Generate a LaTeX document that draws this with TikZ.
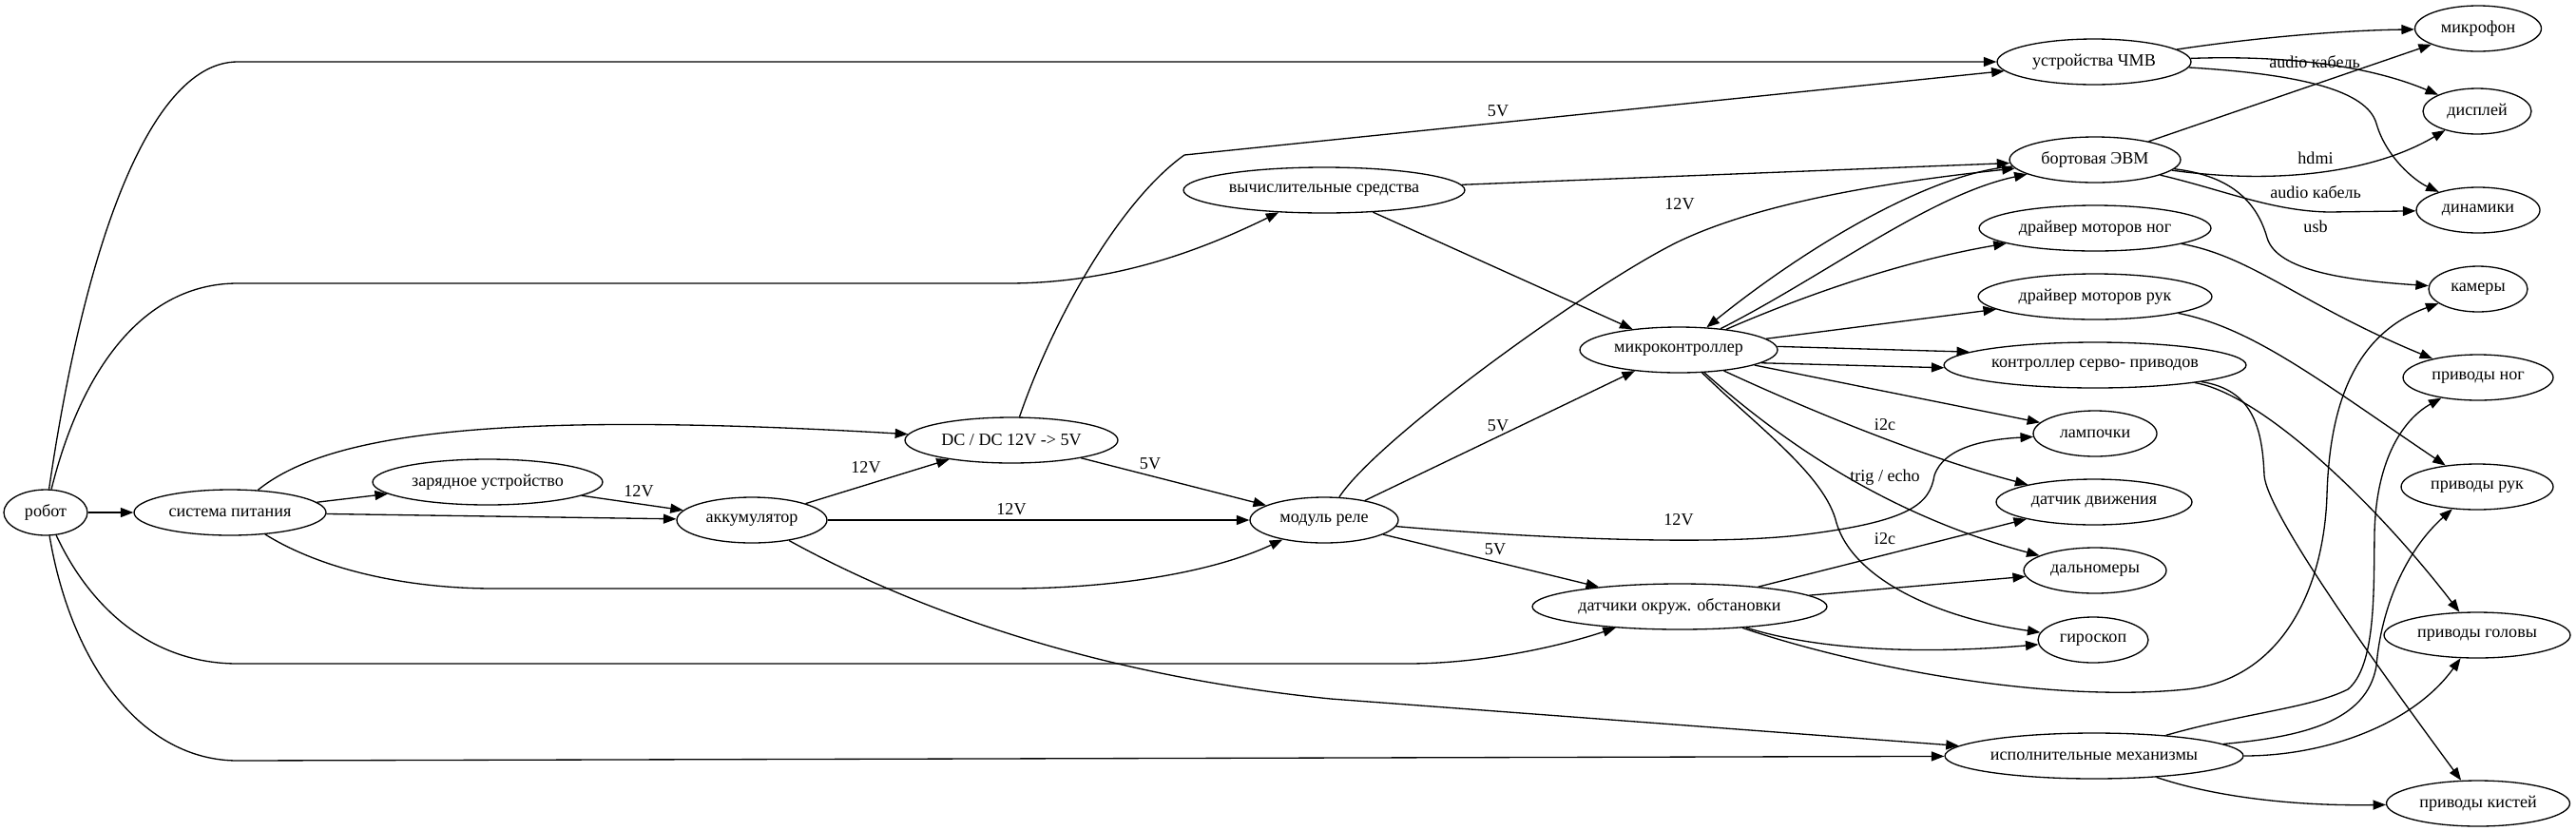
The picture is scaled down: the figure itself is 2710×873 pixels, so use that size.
\documentclass[tikz,border=0pt]{standalone}
\usepackage{fontspec}
\setmainfont{Liberation Serif}
\usetikzlibrary{arrows.meta,shapes.geometric}
\tikzset{
  blk/.style={ellipse,draw=black,line width=.75pt,inner sep=0pt,minimum height=.96cm,font=\fontsize{10.3}{12}\selectfont},
  link/.style={draw=black,line width=.75pt,-{Triangle[length=2.7mm,width=2mm]}},
  vlabel/.style={font=\fontsize{10.3}{12}\selectfont,inner sep=1pt}
}
\begin{document}
\begin{tikzpicture}[x=.02cm,y=-.02cm]
  \useasboundingbox (0,0) rectangle (2710,873);
  \node[blk,minimum width=1.76cm] (robot) at (48,539) {робот};
  \node[blk,minimum width=4.04cm] (power) at (242,539) {система питания};
  \node[blk,minimum width=4.84cm] (charger) at (513,507) {зарядное устройство};
  \node[blk,minimum width=3.16cm] (battery) at (791,547) {аккумулятор};
  \node[blk,minimum width=4.48cm] (dcdc) at (1064,463) {DC / DC 12V -> 5V};
  \node[blk,minimum width=3.12cm] (relay) at (1393,547) {модуль реле};
  \node[blk,minimum width=5.92cm] (compute) at (1393,200) {вычислительные средства};
  \node[blk,minimum width=4.16cm] (mcu) at (1766,368) {микроконтроллер};
  \node[blk,minimum width=6.2cm] (sensors) at (1767,638) {датчики окруж. обстановки};
  \node[blk,minimum width=4.08cm] (hmi) at (2203,65) {устройства ЧМВ};
  \node[blk,minimum width=3.6cm] (pc) at (2204,168) {бортовая ЭВМ};
  \node[blk,minimum width=4.88cm] (legdrv) at (2204,240) {драйвер моторов ног};
  \node[blk,minimum width=4.92cm] (armdrv) at (2204,312) {драйвер моторов рук};
  \node[blk,minimum width=6.36cm] (servo) at (2204,384) {контроллер серво- приводов};
  \node[blk,minimum width=2.6cm] (lamps) at (2204,456) {лампочки};
  \node[blk,minimum width=4.12cm] (motion) at (2203,528) {датчик движения};
  \node[blk,minimum width=3cm] (ranger) at (2204,600) {дальномеры};
  \node[blk,minimum width=2.32cm] (gyro) at (2202,673) {гироскоп};
  \node[blk,minimum width=6.28cm] (act) at (2203,795) {исполнительные механизмы};
  \node[blk,minimum width=2.66cm] (mic) at (2607,30) {микрофон};
  \node[blk,minimum width=2.28cm] (disp) at (2606,117) {дисплей};
  \node[blk,minimum width=2.6cm] (spk) at (2607,221) {динамики};
  \node[blk,minimum width=2.08cm] (cam) at (2607,304) {камеры};
  \node[blk,minimum width=3.16cm] (legs) at (2607,397) {приводы ног};
  \node[blk,minimum width=3.2cm] (arms) at (2606,512) {приводы рук};
  \node[blk,minimum width=3.92cm] (head) at (2606,668) {приводы головы};
  \node[blk,minimum width=3.86cm] (hands) at (2607,845) {приводы кистей};

  \draw[link] (robot) -- (power);
  \draw[link] (robot) .. controls (90,250) and (160,65) .. (250,65) -- (hmi);
  \draw[link] (robot) .. controls (85,390) and (150,298) .. (250,298) -- (1060,298) .. controls (1170,298) and (1260,265) .. (compute);
  \draw[link] (robot) .. controls (95,640) and (160,698) .. (250,698) -- (1480,698) .. controls (1560,698) and (1640,680) .. (sensors);
  \draw[link] (robot) .. controls (75,700) and (150,800) .. (250,800) -- (act);
  \draw[link] (power) -- (charger);
  \draw[link] (power) -- (battery);
  \draw[link] (power) .. controls (340,460) and (500,430) .. (dcdc);
  \draw[link] (power) .. controls (340,600) and (430,619) .. (520,619) -- (1060,619) .. controls (1180,619) and (1280,600) .. (relay);
  \draw[link] (charger) -- (battery);
  \draw[link] (battery) -- (dcdc);
  \draw[link] (battery) -- (relay);
  \draw[link] (battery) .. controls (960,640) and (1150,710) .. (1400,735) -- (act);
  \draw[link] (dcdc) -- (relay);
  \draw[link] (dcdc) .. controls (1110,330) and (1180,210) .. (1246,163) -- (hmi);
  \draw[link] (relay) -- (mcu);
  \draw[link] (relay) .. controls (1450,460) and (1680,295) .. (1768,253) .. controls (1860,210) and (2000,190) .. (pc);
  \draw[link] (relay) .. controls (1600,565) and (1800,575) .. (1900,562) .. controls (2010,548) and (2030,530) .. (2035,500) .. controls (2045,470) and (2090,462) .. (lamps);
  \draw[link] (relay) -- (sensors);
  \draw[link] (compute) -- (pc);
  \draw[link] (compute) -- (mcu);
  \draw[link] (pc) .. controls (2030,182) and (1900,260) .. (mcu);
  \draw[link] (mcu) .. controls (1920,290) and (2030,205) .. (pc);
  \draw[link] (mcu) .. controls (1900,310) and (2000,275) .. (legdrv);
  \draw[link] (mcu) -- (armdrv);
  \draw[link] (mcu.2) -- (servo.174);
  \draw[link] (mcu.-9) -- (servo.181);
  \draw[link] (mcu) -- (lamps);
  \draw[link] (mcu) .. controls (1900,430) and (2020,480) .. (motion);
  \draw[link] (mcu) .. controls (1870,460) and (1980,540) .. (ranger);
  \draw[link] (mcu) .. controls (1850,450) and (1920,500) .. (1932,550) .. controls (1950,610) and (2040,650) .. (gyro);
  \draw[link] (sensors) -- (motion);
  \draw[link] (sensors) -- (ranger);
  \draw[link] (sensors) .. controls (1900,680) and (2000,690) .. (gyro);
  \draw[link] (sensors) .. controls (1950,700) and (2150,740) .. (2300,725) .. controls (2400,715) and (2445,620) .. (2448,520) .. controls (2451,420) and (2480,350) .. (cam);
  \draw[link] (hmi) .. controls (2370,40) and (2460,32) .. (mic);
  \draw[link] (hmi) .. controls (2400,58) and (2490,68) .. (disp);
  \draw[link] (hmi) .. controls (2420,78) and (2490,95) .. (2500,130) .. controls (2510,165) and (2540,190) .. (spk);
  \draw[link] (pc) -- (mic);
  \draw[link] (pc) .. controls (2400,195) and (2500,180) .. (disp);
  \draw[link] (pc) .. controls (2340,200) and (2390,222) .. (2450,223) -- (spk);
  \draw[link] (pc) .. controls (2350,185) and (2375,215) .. (2385,250) .. controls (2395,285) and (2470,295) .. (cam);
  \draw[link] (legdrv) .. controls (2370,270) and (2420,320) .. (legs);
  \draw[link] (armdrv) .. controls (2370,345) and (2440,400) .. (arms);
  \draw[link] (servo) .. controls (2380,415) and (2500,530) .. (head);
  \draw[link] (servo) .. controls (2370,410) and (2380,450) .. (2382,500) .. controls (2385,540) and (2500,700) .. (hands);
  \draw[link] (act) .. controls (2360,750) and (2430,745) .. (2470,725) .. controls (2500,700) and (2497,620) .. (2498,560) .. controls (2500,480) and (2530,440) .. (legs);
  \draw[link] (act) .. controls (2420,775) and (2490,760) .. (2500,700) .. controls (2505,640) and (2530,580) .. (arms);
  \draw[link] (act) .. controls (2450,795) and (2540,760) .. (head);
  \draw[link] (act) .. controls (2320,835) and (2400,848) .. (hands);

  \node[vlabel] (chg12) at (672,517) {12V};
  \node[vlabel] (bat12a) at (911,492) {12V};
  \node[vlabel] (bat12b) at (1064,536) {12V};
  \node[vlabel] (dc5a) at (1210,488) {5V};
  \node[vlabel] (dc5b) at (1576,117) {5V};
  \node[vlabel] (rel12a) at (1767,215) {12V};
  \node[vlabel] (rel5a) at (1576,448) {5V};
  \node[vlabel] (rel12b) at (1766,547) {12V};
  \node[vlabel] (rel5b) at (1573,578) {5V};
  \node[vlabel] (busa) at (1983,447) {i2c};
  \node[vlabel] (trig) at (1983,502) {trig / echo};
  \node[vlabel] (busb) at (1983,567) {i2c};
  \node[vlabel] (audioa) at (2435,65) {audio кабель};
  \node[vlabel] (hdmi) at (2436,166) {hdmi};
  \node[vlabel] (audiob) at (2436,202) {audio кабель};
  \node[vlabel] (usb) at (2436,238) {usb};
\end{tikzpicture}
\end{document}
